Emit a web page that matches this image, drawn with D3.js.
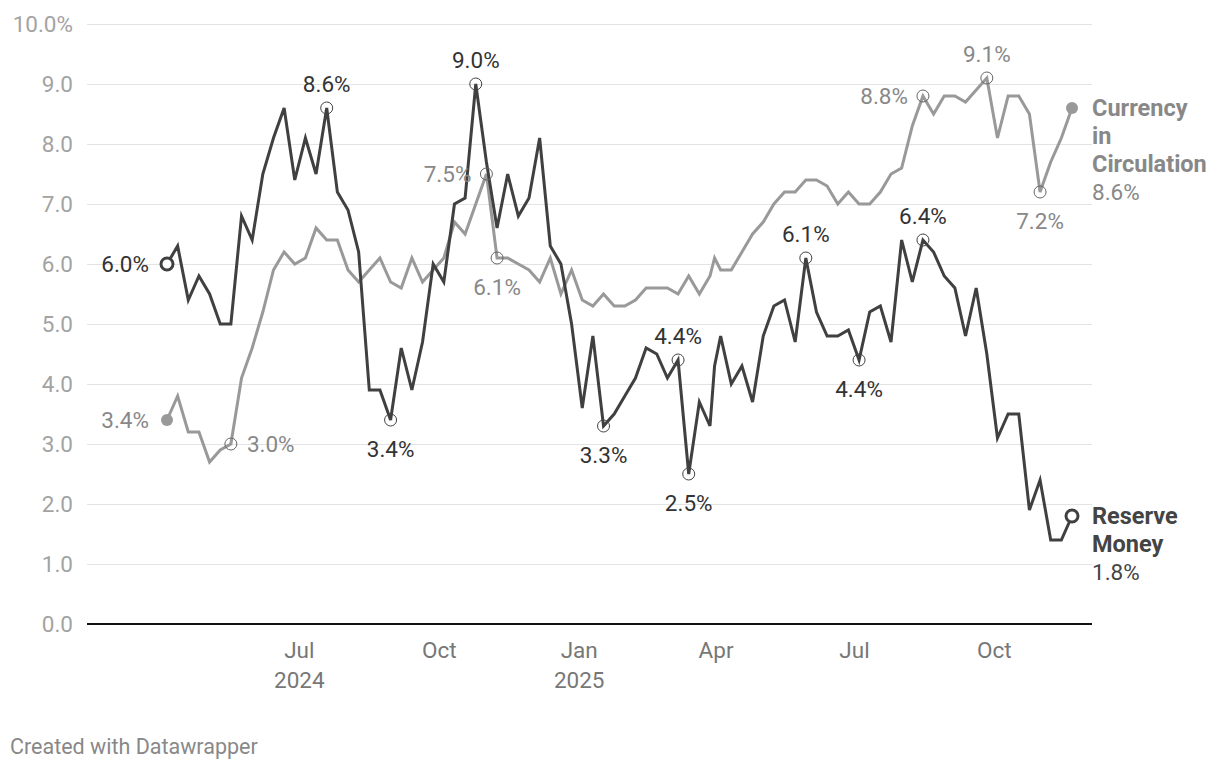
<!DOCTYPE html>
<html>
<head>
<meta charset="utf-8">
<script src="https://cdn.jsdelivr.net/npm/d3@7"></script>
<style>
  html, body { margin: 0; padding: 0; background: #fff; }
  svg { display: block; font-family: Roboto, "Noto Sans", sans-serif; }
</style>
</head>
<body>
<svg id="chart" width="1220" height="770"></svg>
<script>
// Weekly (Friday) observations, Apr 2024 - Nov 2025, plus the 31 Mar 2025 year-end reading
const fridays = d3.timeFriday.range(new Date(2024, 3, 5), new Date(2025, 10, 22));
const dates = fridays.concat([new Date(2025, 2, 31)]).sort((a, b) => a - b);

// Reserve Money, y/y growth %
const reserveMoney = [
  6.0, 6.3, 5.4, 5.8, 5.5, 5.0, 5.0, 6.8, 6.4, 7.5,
  8.1, 8.6, 7.4, 8.1, 7.5, 8.6, 7.2, 6.9, 6.2, 3.9,
  3.9, 3.4, 4.6, 3.9, 4.7, 6.0, 5.7, 7.0, 7.1, 9.0,
  7.7, 6.6, 7.5, 6.8, 7.1, 8.1, 6.3, 6.0, 5.0, 3.6,
  4.8, 3.3, 3.5, 3.8, 4.1, 4.6, 4.5, 4.1, 4.4, 2.5,
  3.7, 3.3, 4.3,
  4.8, 4.0, 4.3, 3.7, 4.8, 5.3, 5.4, 4.7,
  6.1, 5.2, 4.8, 4.8, 4.9, 4.4, 5.2, 5.3, 4.7, 6.4,
  5.7, 6.4, 6.2, 5.8, 5.6, 4.8, 5.6, 4.5, 3.1, 3.5,
  3.5, 1.9, 2.4, 1.4, 1.4, 1.8
];

// Currency in Circulation, y/y growth %
const currency = [
  3.4, 3.8, 3.2, 3.2, 2.7, 2.9, 3.0, 4.1, 4.6, 5.2,
  5.9, 6.2, 6.0, 6.1, 6.6, 6.4, 6.4, 5.9, 5.7, 5.9,
  6.1, 5.7, 5.6, 6.1, 5.7, 5.9, 6.1, 6.7, 6.5, 7.0,
  7.5, 6.1, 6.1, 6.0, 5.9, 5.7, 6.1, 5.5, 5.9, 5.4,
  5.3, 5.5, 5.3, 5.3, 5.4, 5.6, 5.6, 5.6, 5.5, 5.8,
  5.5, 5.8, 6.1,
  5.9, 5.9, 6.2, 6.5, 6.7, 7.0, 7.2, 7.2,
  7.4, 7.4, 7.3, 7.0, 7.2, 7.0, 7.0, 7.2, 7.5, 7.6,
  8.3, 8.8, 8.5, 8.8, 8.8, 8.7, 8.9, 9.1, 8.1, 8.8,
  8.8, 8.5, 7.2, 7.7, 8.1, 8.6
];

// highlighted points: index into the series and where the label sits
const rmNotes = [
  [15, 'above'], [21, 'below'], [29, 'above'], [41, 'below'], [48, 'above'],
  [49, 'below'], [61, 'above'], [66, 'below'], [72, 'above']
];
const cicNotes = [
  [6, 'right'], [30, 'left'], [31, 'below'], [72, 'left'], [78, 'above'], [83, 'below']
];

const yTicks = [0, 1, 2, 3, 4, 5, 6, 7, 8, 9, 10];
const xTicks = [
  [new Date(2024, 6, 1), 'Jul', '2024'],
  [new Date(2024, 9, 1), 'Oct', ''],
  [new Date(2025, 0, 1), 'Jan', '2025'],
  [new Date(2025, 3, 1), 'Apr', ''],
  [new Date(2025, 6, 1), 'Jul', ''],
  [new Date(2025, 9, 1), 'Oct', '']
];

const svg = d3.select('#chart');
const left = 87, right = 1092;
const fs = 22.5;

const x = d3.scaleTime()
  .domain([dates[0], dates[dates.length - 1]])
  .range([167, 1072]);
const y = d3.scaleLinear().domain([0, 10]).range([624, 24]);

// gridlines + y labels
const yAxis = svg.append('g')
  .attr('transform', `translate(${left},0)`)
  .call(d3.axisLeft(y)
    .tickValues(yTicks)
    .tickSize(-(right - left))
    .tickPadding(14)
    .tickFormat((d) => d === 10 ? '10.0%' : d.toFixed(1)));
yAxis.select('.domain').remove();
yAxis.selectAll('line').attr('stroke', '#e3e3e3').attr('stroke-width', 1);
yAxis.selectAll('text')
  .attr('fill', '#a3a3a3')
  .attr('font-size', fs)
  .attr('font-family', 'Roboto');

// zero baseline
svg.append('line')
  .attr('x1', left).attr('x2', right)
  .attr('y1', y(0)).attr('y2', y(0))
  .attr('stroke', '#111').attr('stroke-width', 2);

// x labels
const xl = svg.append('g')
  .selectAll('text')
  .data(xTicks)
  .join('text')
  .attr('x', (d) => x(d[0]))
  .attr('y', 658)
  .attr('text-anchor', 'middle')
  .attr('font-size', fs)
  .attr('fill', '#777');
xl.append('tspan').text((d) => d[1]);
xl.append('tspan')
  .attr('x', (d) => x(d[0]))
  .attr('dy', 30)
  .text((d) => d[2]);

const line = (vals) => d3.line()
  .x((d, i) => x(dates[i]))
  .y((d) => y(d))(vals);

const rmColor = '#404040';
const cicColor = '#999999';

svg.append('path')
  .attr('d', line(currency))
  .attr('fill', 'none')
  .attr('stroke', cicColor)
  .attr('stroke-width', 3);

svg.append('path')
  .attr('d', line(reserveMoney))
  .attr('fill', 'none')
  .attr('stroke', rmColor)
  .attr('stroke-width', 3);

function notes(vals, list, circleColor, textColor) {
  const g = svg.append('g');
  list.forEach(([i, pos]) => {
    const px = x(dates[i]), py = y(vals[i]);
    g.append('circle')
      .attr('cx', px).attr('cy', py).attr('r', 6)
      .attr('fill', 'none')
      .attr('stroke', circleColor)
      .attr('stroke-width', 1);
    const t = g.append('text')
      .attr('font-size', fs)
      .attr('fill', textColor)
      .text(vals[i].toFixed(1) + '%');
    if (pos === 'above') t.attr('x', px).attr('y', py - 16).attr('text-anchor', 'middle');
    if (pos === 'below') t.attr('x', px).attr('y', py + 37).attr('text-anchor', 'middle');
    if (pos === 'left') t.attr('x', px - 15).attr('y', py + 8).attr('text-anchor', 'end');
    if (pos === 'right') t.attr('x', px + 16).attr('y', py + 8).attr('text-anchor', 'start');
  });
}
notes(reserveMoney, rmNotes, '#444', '#333');
notes(currency, cicNotes, '#666', '#888');

// start and end markers
const last = dates.length - 1;
[0, last].forEach((i) => {
  svg.append('circle')
    .attr('cx', x(dates[i])).attr('cy', y(currency[i])).attr('r', 6)
    .attr('fill', cicColor);
  svg.append('circle')
    .attr('cx', x(dates[i])).attr('cy', y(reserveMoney[i])).attr('r', 6)
    .attr('fill', '#fff')
    .attr('stroke', rmColor)
    .attr('stroke-width', 3);
});

// start value labels
svg.append('text')
  .attr('x', x(dates[0]) - 18).attr('y', y(reserveMoney[0]) + 8)
  .attr('text-anchor', 'end').attr('font-size', fs).attr('fill', '#333')
  .text(reserveMoney[0].toFixed(1) + '%');
svg.append('text')
  .attr('x', x(dates[0]) - 18).attr('y', y(currency[0]) + 8)
  .attr('text-anchor', 'end').attr('font-size', fs).attr('fill', '#888')
  .text(currency[0].toFixed(1) + '%');

// series labels at the right end
function endLabel(lines, val, color, top) {
  const t = svg.append('text')
    .attr('x', right)
    .attr('y', top)
    .attr('font-size', fs)
    .attr('fill', color);
  lines.forEach((s, k) => {
    t.append('tspan')
      .attr('x', right)
      .attr('dy', k === 0 ? 0 : 28)
      .attr('font-weight', 700)
      .attr('font-size', 23.5)
      .text(s);
  });
  t.append('tspan')
    .attr('x', right)
    .attr('dy', 28)
    .text(val.toFixed(1) + '%');
}
endLabel(['Currency', 'in', 'Circulation'], currency[last], '#888', y(currency[last]) + 8);
endLabel(['Reserve', 'Money'], reserveMoney[last], '#444', y(reserveMoney[last]) + 8);

svg.append('text')
  .attr('x', 10).attr('y', 754)
  .attr('font-size', 21.5)
  .attr('fill', '#888')
  .text('Created with Datawrapper');
</script>
</body>
</html>
